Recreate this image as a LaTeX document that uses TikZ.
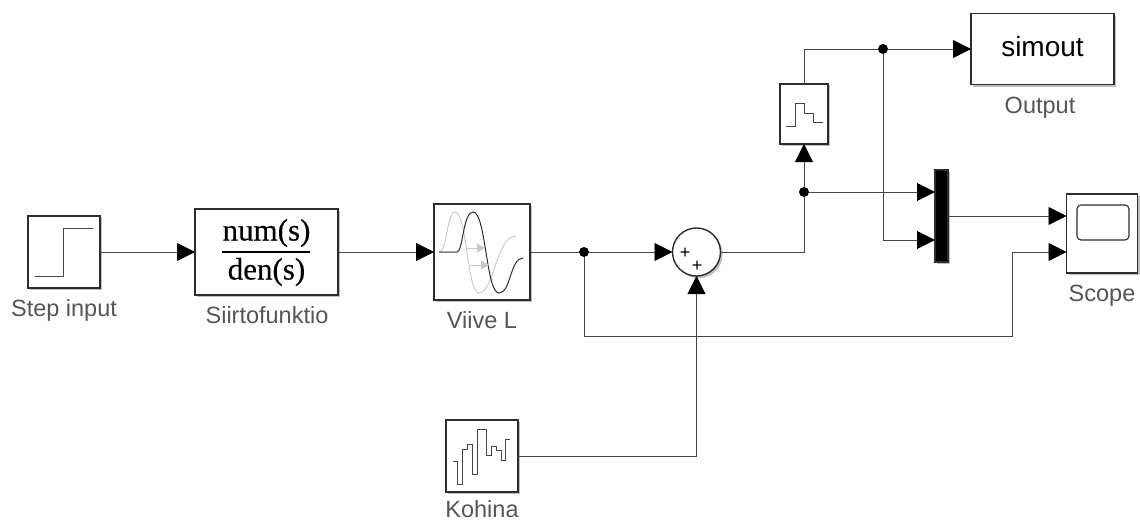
\documentclass[tikz,border=0pt]{standalone}
\usepackage{fontspec}
\setmainfont{Liberation Sans}
\newfontfamily\fracfont[FakeBold=0.3]{Liberation Serif}
\usetikzlibrary{arrows.meta, shadows}
\definecolor{ink}{RGB}{45, 45, 45}
\definecolor{wire}{RGB}{70, 70, 70}
\definecolor{lbl}{RGB}{85, 85, 85}
\definecolor{ghst}{RGB}{200, 200, 200}

\begin{document}
\begin{tikzpicture}[
    x=1pt, y=-1pt,
    blk/.style  = {draw=ink, fill=white, line width=1.4pt, inner sep=0pt, outer sep=0pt,
                   drop shadow={shadow xshift=2.2pt, shadow yshift=-2.2pt, opacity=0.25, fill=black}},
    lab/.style  = {font=\fontsize{23.5}{27}\selectfont\color{lbl}, inner sep=0pt, anchor=base},
    arr/.style  = {color=wire, line width=0.9pt, -{Triangle[length=18pt, width=18pt, color=black]}},
    lin/.style  = {color=wire, line width=0.9pt},
    dot/.style  = {circle, fill=black, inner sep=0pt, minimum size=10pt},
    ico/.style  = {color=wire, line width=0.9pt},
    frc/.style  = {font=\fracfont\fontsize{31}{36}\selectfont, inner sep=0pt, anchor=base},
    pls/.style  = {font=\fontsize{18}{18}\selectfont, inner sep=0pt},
  ]
    \useasboundingbox (0,0) rectangle (1140,522);

    % --- blocks ---
    \node[blk, minimum width=72pt, minimum height=72pt] (stepin) at (64, 252) {};
    \node[blk, minimum width=143pt, minimum height=86pt] (siirto) at (266.5, 252) {};
    \node[blk, minimum width=96pt, minimum height=96pt] (viive) at (482, 252) {};
    \node[blk, circle, minimum size=48pt] (sumb) at (696.5, 252) {};
    \node[blk, minimum width=72pt, minimum height=72pt] (kohina) at (482, 456) {};
    \node[blk, minimum width=48pt, minimum height=60pt] (zoh) at (804, 114) {};
    \node[blk, minimum width=143pt, minimum height=71pt, text height=20pt, text depth=6pt,
          font=\fontsize{28}{32}\selectfont] (simout) at (1042.5, 49) {simout};
    \node[blk, fill=black, minimum width=13pt, minimum height=92pt] (mux) at (941.5, 216) {};
    \node[blk, minimum width=71pt, minimum height=79pt] (scope) at (1102, 233.5) {};

    % --- labels ---
    \node[lab] (lstep) at (64, 316.5) {Step input};
    \node[lab] (lsiirto) at (267, 323.5) {Siirtofunktio};
    \node[lab] (lviive) at (482, 328.5) {Viive L};
    \node[lab] (lkohina) at (482, 517) {Kohina};
    \node[lab] (loutput) at (1040, 113) {Output};
    \node[lab] (lscope) at (1102, 301.5) {Scope};

    % transfer function
    \node[frc] (num) at (266.5, 240.5) {num(s)};
    \node[frc] (den) at (266.5, 279.5) {den(s)};
    \draw[color=black, line width=1.4pt] (222, 252) -- (310, 252);

    % sum signs
    \node[pls] (p1) at (685, 253) {+};
    \node[pls] (p2) at (697, 266) {+};

    % --- icons ---
    \draw[ico] (35, 276) -- (63.5, 276) -- (63.5, 228) -- (93, 228);
    \draw[ico] (786, 126) -- (795, 126) -- (795, 103) -- (804, 103) -- (804, 113) -- (813, 113) -- (813, 122) -- (823, 122);
    \draw[ico, line width=0.8pt] (452.7, 461) -- (457.3, 461) -- (457.3, 484) -- (462.3, 484) -- (462.3, 449.3)
      -- (467.3, 449.3) -- (467.3, 444) -- (472.3, 444) -- (472.3, 474.3) -- (477, 474.3) -- (477, 429.3)
      -- (486.3, 429.3) -- (486.3, 455.7) -- (491.7, 455.7) -- (491.7, 446) -- (496, 446) -- (496, 450.7)
      -- (501, 450.7) -- (501, 460) -- (505.7, 460) -- (505.7, 439.3) -- (510.3, 439.3);
    \draw[color=ink, line width=1.1pt, rounded corners=4pt] (1077, 205) rectangle (1129, 240);

    % delay curves
    \draw[color=ghst, line width=0.9pt] (439, 252) .. controls (447, 252) and (447, 212) .. (455, 212)
      .. controls (467, 212) and (467, 293) .. (479, 293) .. controls (494, 293) and (496, 236) .. (516, 236);
    \draw[color=ink, line width=1pt] (439, 252) -- (457, 252) .. controls (463, 252) and (463, 212) .. (473, 212)
      .. controls (486, 212) and (486, 293) .. (499, 293) .. controls (511, 293) and (510, 258) .. (523, 258);
    \draw[color=ghst, line width=0.9pt, -{Triangle[length=8pt, width=9pt]}] (467, 248) -- (485, 248);
    \draw[color=ghst, line width=0.9pt, -{Triangle[length=8pt, width=9pt]}] (470, 265) -- (489, 265);

    % --- wires ---
    \node[dot] (d1) at (584, 252) {};
    \node[dot] (d2) at (804, 192) {};
    \node[dot] (d3) at (883, 49) {};
    \coordinate (c1) at (804, 252);
    \coordinate (c2) at (584, 336);
    \coordinate (c3) at (1012, 336);
    \coordinate (muxa) at (935, 192);
    \coordinate (muxb) at (935, 240);
    \coordinate (scopeb) at (1066.5, 252);

    \draw[arr] (stepin.east) -- (siirto.west);
    \draw[arr] (siirto.east) -- (viive.west);
    \draw[lin] (viive.east) -- (d1);
    \draw[arr] (d1) -- (sumb.west);
    \draw[lin] (sumb.east) -- (c1) -- (d2);
    \draw[arr] (d2) -- (zoh.south);
    \draw[lin] (zoh.north) |- (d3);
    \draw[arr] (d3) -- (simout.west);
    \draw[arr] (d2) -- (muxa);
    \draw[arr] (d3) |- (muxb);
    \draw[arr] (mux.east) -- (mux.east -| scope.west);
    \draw[arr] (d1) -- (c2) -- (c3) |- (scopeb);
    \draw[arr] (kohina.east) -| (sumb.south);
  \end{tikzpicture}
\end{document}
